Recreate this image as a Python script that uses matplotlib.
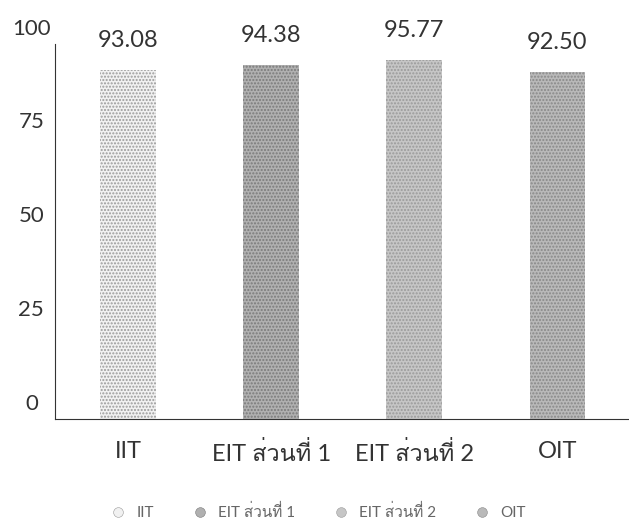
import matplotlib
matplotlib.use('Agg')
import matplotlib.pyplot as plt
import matplotlib.transforms as mtransforms
from matplotlib import font_manager, ft2font

categories = ['IIT', 'EIT ส่วนที่ 1', 'EIT ส่วนที่ 2', 'OIT']
values = [93.08, 94.38, 95.77, 92.50]
yticks = [0, 25, 50, 75, 100]

faces = ['#f1f1f1', '#b0b0b0', '#c6c6c6', '#b9b9b9']
dots = ['#9a9a9a', '#7a7a7a', '#9a9a9a', '#888888']

# find some installed font that has thai glyphs
thai = []
names = set()
for f in font_manager.fontManager.ttflist:
    names.add(f.name)
    try:
        cmap = ft2font.FT2Font(f.fname).get_charmap()
    except Exception:
        continue
    if ord('ส') in cmap and f.name not in thai:
        thai.append(f.name)

fam = ['Lato'] + thai + ['DejaVu Sans']
narrow = 'Liberation Sans Narrow' if 'Liberation Sans Narrow' in names else 'Lato'
fam_narrow = [narrow] + thai + ['DejaVu Sans']
plt.rcParams['font.family'] = fam

fig = plt.figure(figsize=(6.29, 5.22), dpi=100)
ax = fig.add_axes([0.0874, 0.1973, 0.9126, 0.7184])

x = list(range(len(categories)))
ax.bar(x, values, width=0.39, color=faces, edgecolor=dots,
       linewidth=0, hatch='.....')

for xi, v in zip(x, values):
    ax.annotate('%.2f' % v, (xi, v), xytext=(0, 16.5), textcoords='offset points',
                ha='center', va='baseline', fontsize=17, color='#333333')

ax.set_ylim(0, 100)
ax.set_xlim(-0.51, 3.5)
ax.set_yticks(yticks)
ax.set_xticks(x)
ax.set_xticklabels(categories, fontsize=17, color='#333333')
ax.tick_params(axis='x', length=0, pad=16)
ax.tick_params(axis='y', length=0, pad=17, labelsize=16, labelcolor='#333333')
off = mtransforms.ScaledTranslation(0, 0.175, fig.dpi_scale_trans)
for lab in ax.get_yticklabels():
    lab.set_ha('center')
    lab.set_transform(lab.get_transform() + off)

for s in ['top', 'right']:
    ax.spines[s].set_visible(False)
ax.spines['left'].set_color('#333333')
ax.spines['bottom'].set_color('#333333')

handles = [plt.Line2D([], [], marker='o', linestyle='', markersize=7,
                      markerfacecolor=faces[i], markeredgecolor=dots[i],
                      markeredgewidth=0.4)
           for i in range(4)]
leg = fig.legend(handles, categories, loc='center', bbox_to_anchor=(0.507, 0.019),
                 ncol=4, frameon=False, prop={'family': fam_narrow, 'size': 11},
                 handlelength=0.8, handletextpad=0.8, columnspacing=2.6,
                 borderpad=0)
for t in leg.get_texts():
    t.set_color('#666666')

fig.savefig('out.png', dpi=100)
